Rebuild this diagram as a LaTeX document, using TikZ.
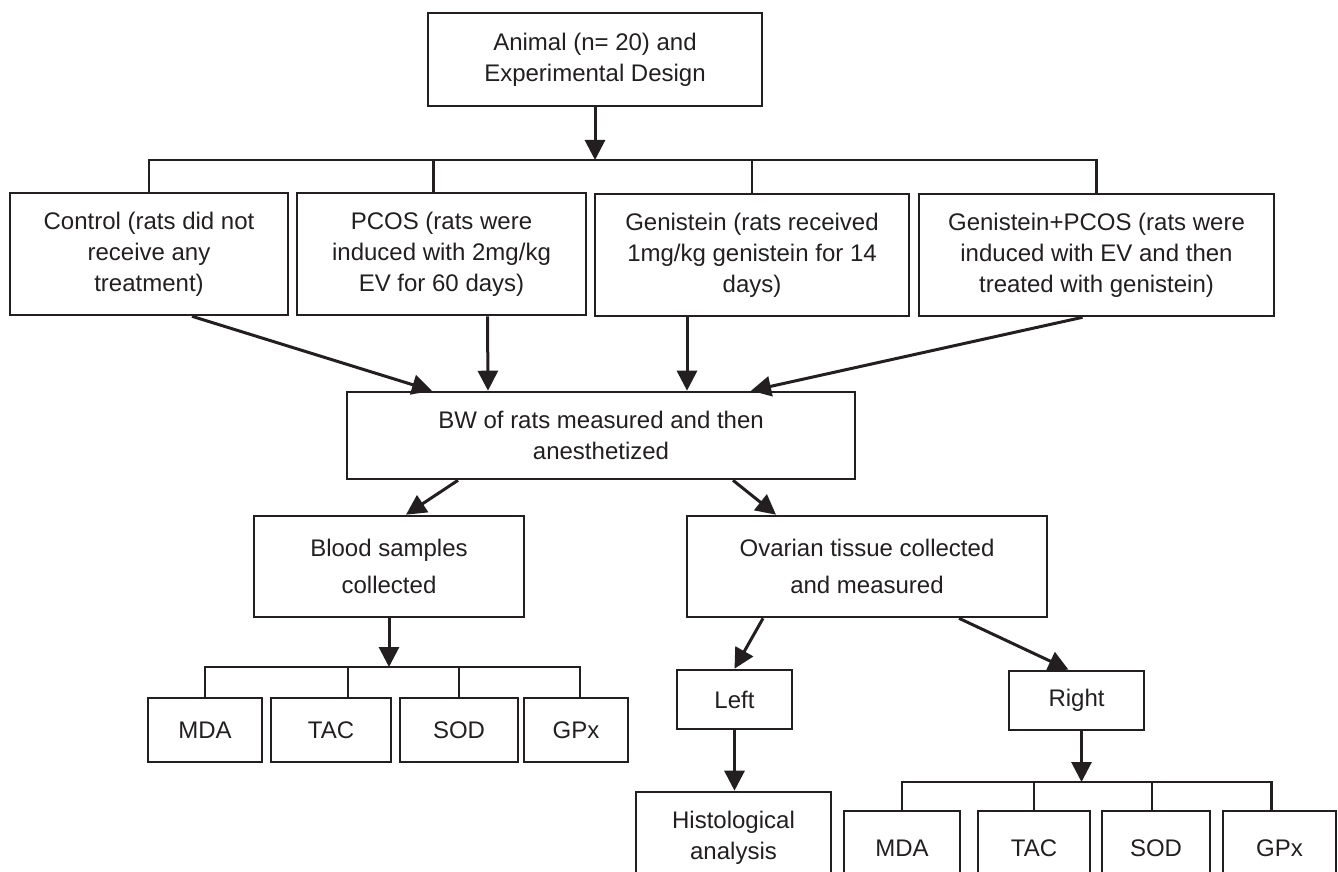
\documentclass[tikz,border=0pt]{standalone}
\usepackage{fontspec}
\setmainfont{Liberation Sans}
\usetikzlibrary{arrows.meta}

\definecolor{ink}{HTML}{231F20}
\tikzset{
    box/.style = {draw = ink, line width = 1.3pt, align = center, inner sep = 0pt, text = ink,
        font = \fontsize{12}{15.5}\selectfont}, % Прямоугольник с текстом
    arr/.style = {draw = ink, line width = 1.5pt, -{Triangle[length = 10pt, width = 10pt]}}, % Стрелка
    bus/.style = {draw = ink, line width = 1.4pt} % Шина (без стрелки)
}

\begin{document}
\begin{tikzpicture}[x = 0.5pt, y = -0.5pt]
        \useasboundingbox (0, 0) rectangle (1338, 872);
        \clip (0, 0) rectangle (1338, 872); % Нижние блоки обрезаются краем

        % Верхний блок
        \node[box, minimum width = 167pt, minimum height = 46.5pt] (top) at (595, 59.5) {Animal (n= 20) and\\Experimental Design};

        % Группы
        \node[box, minimum width = 139pt, minimum height = 61pt] (ctrl) at (149, 254) {Control (rats did not\\receive any\\treatment)};
        \node[box, minimum width = 144.5pt, minimum height = 61pt] (pcos) at (441.5, 254) {PCOS (rats were\\induced with 2mg/kg\\EV for 60 days)};
        \node[box, minimum width = 157pt, minimum height = 61pt] (gen) at (752, 255) {Genistein (rats received\\1mg/kg genistein for 14\\days)};
        \node[box, minimum width = 177.5pt, minimum height = 61pt] (genp) at (1096.5, 255) {Genistein+PCOS (rats were\\induced with EV and then\\treated with genistein)};

        \node[box, minimum width = 254pt, minimum height = 43.5pt] (bw) at (601, 435.5) {BW of rats measured and then\\anesthetized};

        \node[box, minimum width = 135pt, minimum height = 50.5pt, font = \fontsize{12}{18.5}\selectfont] (blood) at (389, 566.5) {Blood samples\\collected};
        \node[box, minimum width = 180pt, minimum height = 50.5pt, font = \fontsize{12}{18.5}\selectfont] (ovar) at (867, 566.5) {Ovarian tissue collected\\and measured};

        % Показатели крови
        \node[box, minimum width = 57pt, minimum height = 32pt] (mdaA) at (205, 730) {MDA};
        \node[box, minimum width = 60pt, minimum height = 32pt] (tacA) at (331, 730) {TAC};
        \node[box, minimum width = 59pt, minimum height = 32pt] (sodA) at (459, 730) {SOD};
        \node[box, minimum width = 52pt, minimum height = 32pt] (gpxA) at (576, 730) {GPx};

        % Яичники
        \node[box, minimum width = 57.5pt, minimum height = 29.5pt] (left) at (734.5, 699.5) {Left};
        \node[box, minimum width = 67.5pt, minimum height = 29.5pt] (right) at (1076.5, 700.5) {Right};
        \node[box, minimum width = 97.5pt, minimum height = 46pt] (hist) at (733.5, 838) {Histological\\analysis};

        \node[box, minimum width = 58pt, minimum height = 37pt] (mdaB) at (902, 848) {MDA};
        \node[box, minimum width = 56pt, minimum height = 37pt] (tacB) at (1034, 848) {TAC};
        \node[box, minimum width = 54pt, minimum height = 37pt] (sodB) at (1156, 848) {SOD};
        \node[box, minimum width = 56.5pt, minimum height = 37pt] (gpxB) at (1279.5, 848) {GPx};

        % Шины
        \coordinate (busA) at (595, 160);
        \coordinate (busB) at (389, 667);
        \coordinate (busC) at (1081.5, 782);

        \draw[arr] (top.south) -- (busA);
        \draw[bus] (ctrl.north) |- (busA) -| (genp.north);
        \draw[bus] ([xshift = -4pt]pcos.north) -- ([xshift = -4pt]pcos.north |- busA);
        \draw[bus] (gen.north) -- (gen.north |- busA);

        \draw[arr] (blood.south) -- (busB);
        \draw[bus] (mdaA.north) |- (busB) -| ([xshift = 2pt]gpxA.north);
        \draw[bus] ([xshift = 8.5pt]tacA.north) -- ([xshift = 8.5pt]tacA.north |- busB);
        \draw[bus] (sodA.north) -- (sodA.north |- busB);

        \draw[arr] ([xshift = 2.5pt]right.south) -- (busC);
        \draw[bus] (mdaB.north) |- (busC) -| ([xshift = -4pt]gpxB.north);
        \draw[bus] (tacB.north) -- (tacB.north |- busC);
        \draw[bus] ([xshift = -2pt]sodB.north) -- ([xshift = -2pt]sodB.north |- busC);

        % Стрелки к общему блоку
        \draw[arr] ([xshift = 21.5pt]ctrl.south) -- ([xshift = -84.5pt]bw.north);
        \draw[arr] ([xshift = 23pt]pcos.south) -- ([xshift = -56.5pt]bw.north);
        \draw[arr] ([xshift = -32.5pt]gen.south) -- ([xshift = 43pt]bw.north);
        \draw[arr] ([xshift = -7pt]genp.south) -- ([xshift = 75pt]bw.north);

        \draw[arr] ([xshift = -71.5pt]bw.south) -- ([xshift = 8.5pt]blood.north);
        \draw[arr] ([xshift = 66pt]bw.south) -- ([xshift = -45.5pt]ovar.north);

        \draw[arr] ([xshift = -52pt]ovar.south) -- (left.north);
        \draw[arr] ([xshift = 46pt]ovar.south) -- ([xshift = -4pt]right.north);
        \draw[arr] (left.south) -- (left.south |- hist.north);
    \end{tikzpicture}
\end{document}
